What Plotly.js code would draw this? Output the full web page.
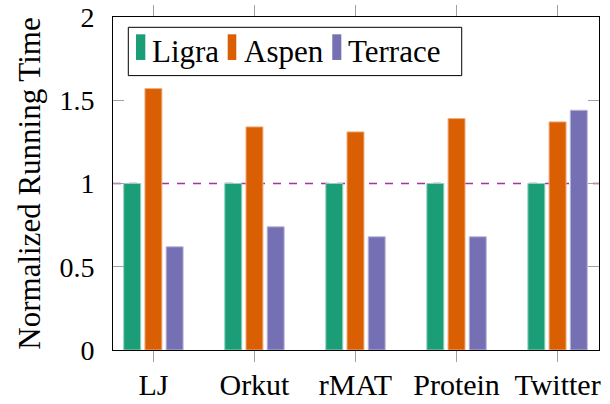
<!DOCTYPE html>
<html>
<head>
<meta charset="utf-8">
<script src="https://cdn.plot.ly/plotly-3.0.1.min.js"></script>
<style>html,body{margin:0;padding:0;background:#fff;}#chart{width:610px;height:404px;}</style>
</head>
<body>
<div id="chart"></div>
<script>
// Data
var categories = ["LJ", "Orkut", "rMAT", "Protein", "Twitter"];
var seriesNames = ["Ligra", "Aspen", "Terrace"];
var ligra   = [1, 1, 1, 1, 1];
var aspen   = [1.57, 1.34, 1.31, 1.39, 1.37];
var terrace = [0.62, 0.74, 0.68, 0.68, 1.44];
var referenceLevel = 1;
var yTickVals = [0, 0.5, 1, 1.5, 2];
var yTickText = ["0", "0.5", "1", "1.5", "2"];

// Styles
var FONT = "Liberation Serif, serif";
var fillColors = ["#1b9e77", "#d95f02", "#7570b3"];
var edgeColors = ["#8fd3bd", "#f0ae80", "#bab7d9"];
// legend layout (paper coordinates): swatch left/right, text left
var legendSlots = [
  {sx0: 0.0473, sx1: 0.0665, tx: 0.0776},
  {sx0: 0.2360, sx1: 0.2537, tx: 0.2669},
  {sx0: 0.4512, sx1: 0.4698, tx: 0.4809}
];

var seriesValues = [ligra, aspen, terrace];
var data = seriesValues.map(function (vals, i) {
  return {
    type: "bar",
    name: seriesNames[i],
    x: categories,
    y: vals,
    marker: {color: fillColors[i], line: {color: edgeColors[i], width: 1}},
    hoverinfo: "skip",
    showlegend: false
  };
});

var shapes = [{
  type: "line", xref: "paper", x0: 0, x1: 1,
  yref: "y", y0: referenceLevel, y1: referenceLevel,
  line: {color: "#a8309f", width: 1.3, dash: "8px,8px"},
  layer: "below"
}, {
  type: "rect", xref: "paper", yref: "paper",
  x0: 0.0315, x1: 0.7175, y0: 0.824, y1: 0.969,
  line: {color: "#000", width: 1}, fillcolor: "#fff", layer: "above"
}];
var annotations = [];
legendSlots.forEach(function (s, i) {
  shapes.push({
    type: "rect", xref: "paper", yref: "paper",
    x0: s.sx0, x1: s.sx1, y0: 0.871, y1: 0.948,
    line: {width: 0}, fillcolor: fillColors[i], layer: "above"
  });
  annotations.push({
    xref: "paper", yref: "paper", x: s.tx, y: 0.897,
    xanchor: "left", yanchor: "middle", showarrow: false,
    text: seriesNames[i], font: {family: FONT, size: 31, color: "#000"},
    borderpad: 0
  });
});

var layout = {
  width: 610, height: 404,
  margin: {l: 113, r: 11, t: 17, b: 54},
  paper_bgcolor: "#fff", plot_bgcolor: "#fff",
  font: {family: FONT, size: 30, color: "#000"},
  barmode: "group",
  bargap: 0.37,
  bargroupgap: 0.2,
  showlegend: false,
  xaxis: {
    type: "category",
    range: [-0.4, 4.41],
    showline: true, linecolor: "#000", linewidth: 1,
    mirror: "ticks",
    ticks: "outside", ticklen: 11, tickcolor: "#a0a0a0", tickwidth: 1,
    tickangle: 0,
    ticklabelstandoff: -3,
    showgrid: false, zeroline: false,
    tickfont: {family: FONT, size: 30},
    fixedrange: true
  },
  yaxis: {
    range: [0, 2],
    tickvals: yTickVals, ticktext: yTickText,
    showline: true, linecolor: "#000", linewidth: 1,
    mirror: "ticks",
    ticks: "inside", ticklen: 11, tickcolor: "#a0a0a0", tickwidth: 1,
    ticklabelstandoff: 12,
    showgrid: false, zeroline: false,
    tickfont: {family: FONT, size: 28},
    title: {text: "Normalized Running Time", font: {family: FONT, size: 31}, standoff: 9},
    automargin: false,
    fixedrange: true
  },
  shapes: shapes,
  annotations: annotations
};

Plotly.newPlot("chart", data, layout, {staticPlot: true, displayModeBar: false});
</script>
</body>
</html>
